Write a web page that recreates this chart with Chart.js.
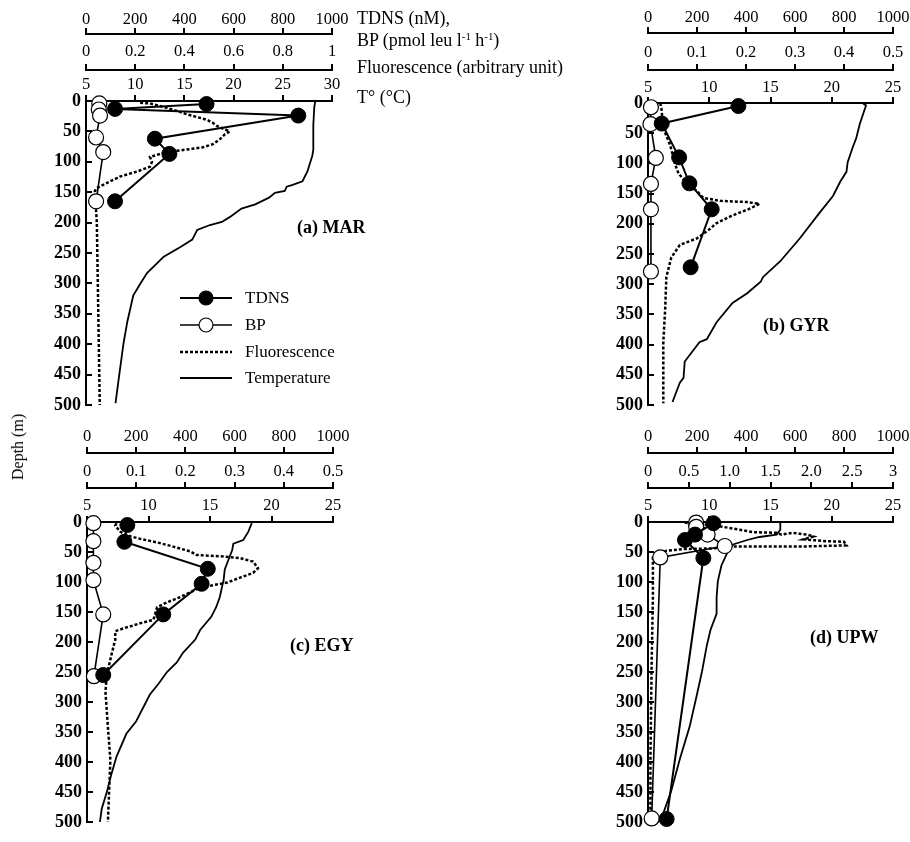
<!DOCTYPE html>
<html>
<head>
<meta charset="utf-8">
<script src="https://cdn.jsdelivr.net/npm/chart.js@4.4.1/dist/chart.umd.min.js"></script>
<style>
  body { margin: 0; width: 910px; height: 842px; overflow: hidden; position: relative; background: #fff;
         font-family: "Liberation Serif", "Times New Roman", serif; color: #000; }
  canvas { position: absolute; }
  .t { position: absolute; white-space: nowrap; line-height: 1; }
  .t sup { font-size: 0.6em; vertical-align: 0.55em; }
  .lab { font-weight: bold; font-size: 18px; }
</style>
</head>
<body>
<canvas id="mar" width="450" height="425" style="left:0;top:0"></canvas>
<canvas id="gyr" width="480" height="425" style="left:450px;top:0"></canvas>
<canvas id="egy" width="450" height="422" style="left:0;top:420px"></canvas>
<canvas id="upw" width="480" height="422" style="left:450px;top:420px"></canvas>

<div class="t" style="left:357px;top:9px;font-size:18px">TDNS (nM),</div>
<div class="t" style="left:357px;top:31px;font-size:18px">BP (pmol leu l<sup>-1</sup> h<sup>-1</sup>)</div>
<div class="t" style="left:357px;top:58px;font-size:18px">Fluorescence (arbitrary unit)</div>
<div class="t" style="left:357px;top:88px;font-size:18px">T° (°C)</div>
<div class="t" style="left:18px;top:447px;font-size:16px;transform:translate(-50%,-50%) rotate(-90deg)">Depth (m)</div>
<div class="t lab" style="left:297px;top:218px">(a) MAR</div>
<div class="t lab" style="left:763px;top:316px">(b) GYR</div>
<div class="t lab" style="left:290px;top:636px">(c) EGY</div>
<div class="t lab" style="left:810px;top:628px">(d) UPW</div>

<script>
const FONT = '"Liberation Serif", "Times New Roman", serif';

// (a) MAR
const marTdnsDepth = [5, 13, 24, 62, 87, 165];
const marTdns = [490, 118, 863, 280, 339, 118];
const marBpDepth = [4, 14, 24, 60, 84, 165];
const marBp = [0.054, 0.052, 0.057, 0.041, 0.070, 0.041];
const marFluoDepth = [3, 4, 11, 22, 31, 36, 41, 50, 55, 63, 71, 76, 79, 82, 85, 92, 100, 108, 116, 124, 143, 148, 200, 300, 400, 500];
const marFluo = [10.5, 11.5, 13.2, 15.3, 17.3, 17.9, 18.3, 19.6, 19.1, 18.6, 17.9, 16.9, 15.6, 14.2, 13.0, 11.5, 11.7, 11.5, 10.2, 8.5, 6.1, 5.9, 6.1, 6.2, 6.3, 6.4];
const marTempDepth = [0, 10, 40, 80, 90, 116, 132, 138, 141, 148, 151, 159, 170, 177, 191, 199, 204, 212, 228, 240, 256, 283, 301, 320, 363, 400, 460, 497];
const marTemp = [28.3, 28.2, 28.1, 28.1, 28.0, 27.5, 27.0, 26.0, 25.4, 25.2, 24.2, 23.6, 22.2, 20.8, 19.6, 18.8, 17.6, 16.3, 15.8, 14.6, 12.9, 11.2, 10.5, 9.8, 9.2, 8.8, 8.3, 8.0];

// (b) GYR
const gyrTdnsDepth = [5, 34, 90, 133, 176, 272];
const gyrTdns = [369, 56, 127, 169, 260, 174];
const gyrBpDepth = [7, 35, 91, 134, 176, 279];
const gyrBp = [0.006, 0.005, 0.016, 0.006, 0.006, 0.006];
const gyrFluoDepth = [0, 10, 42, 69, 101, 117, 133, 146, 157, 162, 164, 167, 175, 187, 200, 208, 224, 235, 256, 288, 342, 396, 497];
const gyrFluo = [6.0, 6.1, 6.25, 6.8, 7.2, 7.5, 8.2, 9.0, 9.5, 10.9, 13.1, 14.1, 13.3, 11.8, 10.5, 10.1, 9.0, 7.6, 6.9, 6.5, 6.4, 6.25, 6.25];
const gyrTempDepth = [0, 4, 10, 34, 58, 74, 98, 114, 130, 154, 182, 224, 262, 288, 296, 315, 331, 363, 391, 396, 428, 455, 463, 495];
const gyrTemp = [22.5, 22.8, 22.7, 22.3, 22.0, 21.7, 21.3, 21.2, 20.7, 20.1, 19.0, 17.4, 15.8, 14.4, 14.2, 13.1, 11.9, 10.6, 9.8, 9.2, 8.0, 7.9, 7.6, 7.0];

// (c) EGY
const egyTdnsDepth = [5, 33, 78, 103, 154, 255];
const egyTdns = [164, 152, 491, 466, 310, 66];
const egyBpDepth = [2, 32, 68, 97, 154, 257];
const egyBp = [0.013, 0.013, 0.013, 0.013, 0.033, 0.014];
const egyFluoDepth = [2, 6, 16, 22, 28, 34, 41, 49, 55, 57, 60, 66, 77, 85, 93, 101, 105, 112, 125, 134, 142, 163, 169, 177, 182, 196, 212, 229, 256, 283, 342, 397, 500];
const egyFluo = [7.4, 7.3, 7.7, 8.2, 9.3, 10.7, 12.0, 13.4, 13.9, 15.8, 17.4, 18.5, 18.9, 18.5, 17.4, 16.4, 15.3, 13.9, 12.6, 11.5, 10.7, 10.4, 9.3, 8.0, 7.3, 7.3, 7.1, 6.9, 6.6, 6.5, 6.7, 6.9, 6.7];
const egyTempDepth = [2, 17, 30, 36, 47, 63, 79, 98, 106, 125, 142, 158, 180, 196, 218, 234, 250, 270, 288, 332, 353, 391, 419, 451, 478, 500];
const egyTemp = [18.4, 18.1, 17.7, 16.9, 16.8, 16.5, 16.2, 16.1, 16.0, 15.8, 15.5, 15.1, 14.2, 13.8, 12.8, 12.3, 11.5, 10.8, 10.1, 9.0, 8.2, 7.4, 7.0, 6.6, 6.2, 6.05];

// (d) UPW
const upwTdnsDepth = [2, 21, 30, 60, 495];
const upwTdns = [267, 192, 151, 226, 76];
const upwBpDepth = [1, 8, 21, 40, 59, 494];
const upwBp = [0.59, 0.59, 0.73, 0.94, 0.15, 0.045];
const upwFluoDepth = [1, 5, 8, 13, 17, 18, 21, 18, 21, 24, 29, 32, 33, 39, 41, 41, 44, 45, 48, 53, 59, 126, 233, 395, 494];
const upwFluo = [8.0, 10.0, 11.1, 12.5, 13.6, 15.5, 15.9, 16.8, 18.0, 18.5, 17.7, 19.6, 21.0, 21.2, 17.4, 11.9, 10.3, 7.9, 6.5, 5.8, 5.4, 5.4, 5.3, 5.2, 5.2];
const upwTempDepth = [1, 13, 21, 25, 30, 37, 45, 59, 72, 99, 126, 153, 169, 180, 206, 250, 287, 341, 395, 448, 494];
const upwTemp = [15.8, 15.8, 15.5, 14.1, 13.1, 12.0, 11.6, 11.3, 11.0, 10.7, 10.6, 10.6, 10.3, 10.1, 9.8, 9.4, 9.0, 8.4, 7.6, 6.9, 6.1];

// tick labels of the BP axes
const bpLabelsA = ['0', '0.2', '0.4', '0.6', '0.8', '1'];
const bpLabelsBC = ['0', '0.1', '0.2', '0.3', '0.4', '0.5'];
const bpLabelsD = ['0', '0.5', '1.0', '1.5', '2.0', '2.5', '3'];

const pts = (depths, vals) => depths.map((d, i) => ({ x: vals[i], y: d }));

function topAxis(min, max, step, weight, height, pad, labels) {
  return {
    type: 'linear', position: 'top', weight: weight, min: min, max: max,
    ticks: {
      stepSize: step, autoSkip: false, maxRotation: 0, padding: pad, color: '#000',
      font: { family: FONT, size: 16.5, lineHeight: 1 },
      callback: (v) => labels ? labels[Math.round((v - min) / step)] : String(v)
    },
    grid: { drawOnChartArea: false, tickLength: 6, lineWidth: 2, color: '#000' },
    border: { color: '#000', width: 2 },
    afterFit: (s) => { s.height = height; }
  };
}

// legend drawn inside panel (a)
const legendRows = [298, 325, 352, 378];
const legendPlugin = {
  id: 'panelLegend',
  afterDatasetsDraw(chart) {
    const ctx = chart.ctx;
    ctx.save();
    ctx.font = '17px ' + FONT;
    ctx.textBaseline = 'middle';
    chart.data.datasets.forEach((ds, i) => {
      const y = legendRows[i];
      ctx.strokeStyle = '#000';
      ctx.lineWidth = ds.borderWidth;
      ctx.setLineDash(ds.borderDash || []);
      ctx.beginPath(); ctx.moveTo(180, y); ctx.lineTo(232, y); ctx.stroke();
      ctx.setLineDash([]);
      if (ds.pointRadius) {
        ctx.beginPath(); ctx.arc(206, y, 7, 0, 2 * Math.PI);
        ctx.fillStyle = ds.pointBackgroundColor; ctx.fill();
        ctx.lineWidth = 1.2; ctx.stroke();
      }
      ctx.fillStyle = '#000';
      ctx.fillText(ds.label, 245, y + 1);
    });
    ctx.restore();
  }
};

function makePanel(id, p) {
  new Chart(document.getElementById(id), {
    type: 'scatter',
    data: {
      datasets: [
        { label: 'TDNS', xAxisID: 'xN', data: pts(p.tdnsDepth, p.tdns), showLine: true,
          borderColor: '#000', borderWidth: 2, pointRadius: 7.5, pointBackgroundColor: '#000',
          pointBorderColor: '#000', pointBorderWidth: 1, clip: false },
        { label: 'BP', xAxisID: 'xB', data: pts(p.bpDepth, p.bp), showLine: true,
          borderColor: '#000', borderWidth: 1.6, pointRadius: 7.5, pointBackgroundColor: '#fff',
          pointBorderColor: '#000', pointBorderWidth: 1.2, clip: false },
        { label: 'Fluorescence', xAxisID: 'xT', data: pts(p.fluoDepth, p.fluo), showLine: true,
          borderColor: '#000', borderWidth: 2.5, borderDash: [3, 2], pointRadius: 0, clip: false },
        { label: 'Temperature', xAxisID: 'xT', data: pts(p.tempDepth, p.temp), showLine: true,
          borderColor: '#000', borderWidth: 1.8, pointRadius: 0, clip: false }
      ]
    },
    options: {
      responsive: false, animation: false, events: [],
      layout: { padding: p.pad },
      plugins: { legend: { display: false }, tooltip: { enabled: false } },
      scales: {
        y: {
          type: 'linear', position: 'left', reverse: true, min: 0, max: 500,
          ticks: { stepSize: 50, padding: 11, color: '#000',
                   font: { family: FONT, size: 18, weight: 'bold', lineHeight: 1 } },
          grid: { drawOnChartArea: false, tickLength: -6, lineWidth: 2, color: '#000' },
          border: { color: '#000', width: 2 },
          afterFit: (s) => { s.width = 50; }
        },
        xT: topAxis(5, p.tMax, 5, 0, p.h[2], p.tp[2]),
        xB: topAxis(0, p.bpMax, p.bpMax / (p.bpLabels.length - 1), 1, p.h[1], p.tp[1], p.bpLabels),
        xN: topAxis(0, 1000, 200, 2, p.h[0], p.tp[0])
      }
    },
    plugins: p.legend ? [legendPlugin] : []
  });
}

makePanel('mar', {
  tdnsDepth: marTdnsDepth, tdns: marTdns, bpDepth: marBpDepth, bp: marBp,
  fluoDepth: marFluoDepth, fluo: marFluo, tempDepth: marTempDepth, temp: marTemp,
  tMax: 30, bpMax: 1, bpLabels: bpLabelsA,
  pad: { left: 36, right: 118, top: 0, bottom: 13 }, h: [34, 36, 31], tp: [0, 4, 2.5], legend: true
});
makePanel('gyr', {
  tdnsDepth: gyrTdnsDepth, tdns: gyrTdns, bpDepth: gyrBpDepth, bp: gyrBp,
  fluoDepth: gyrFluoDepth, fluo: gyrFluo, tempDepth: gyrTempDepth, temp: gyrTemp,
  tMax: 25, bpMax: 0.5, bpLabels: bpLabelsBC,
  pad: { left: 148, right: 37, top: 0, bottom: 10 }, h: [33, 37, 33], tp: [1, 3, 1.5]
});
makePanel('egy', {
  tdnsDepth: egyTdnsDepth, tdns: egyTdns, bpDepth: egyBpDepth, bp: egyBp,
  fluoDepth: egyFluoDepth, fluo: egyFluo, tempDepth: egyTempDepth, temp: egyTemp,
  tMax: 25, bpMax: 0.5, bpLabels: bpLabelsBC,
  pad: { left: 37, right: 117, top: 0, bottom: 12 }, h: [33, 35, 34], tp: [2, 2, 2.5]
});
makePanel('upw', {
  tdnsDepth: upwTdnsDepth, tdns: upwTdns, bpDepth: upwBpDepth, bp: upwBp,
  fluoDepth: upwFluoDepth, fluo: upwFluo, tempDepth: upwTempDepth, temp: upwTemp,
  tMax: 25, bpMax: 3, bpLabels: bpLabelsD,
  pad: { left: 148, right: 37, top: 0, bottom: 10 }, h: [33, 35, 34], tp: [2, 2, 2.5]
});
</script>
</body>
</html>
